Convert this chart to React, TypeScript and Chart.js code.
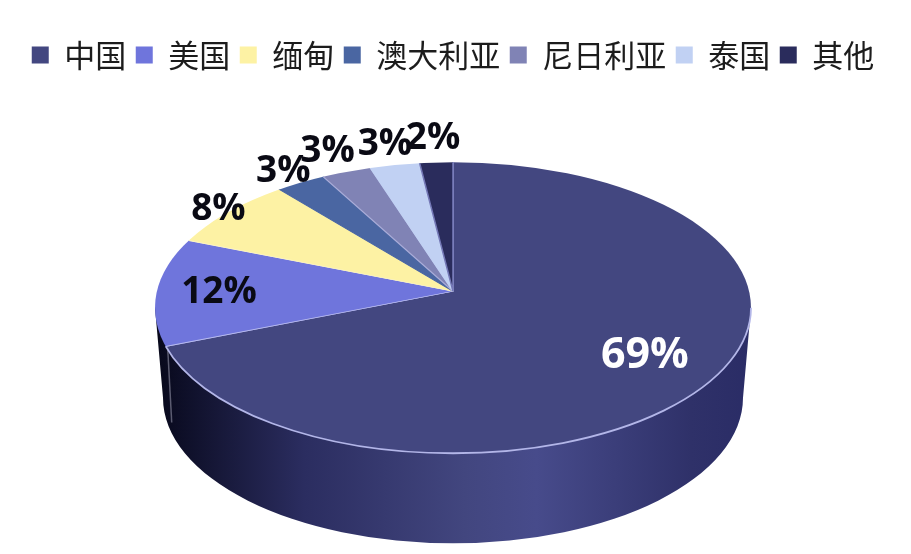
import React, { useEffect, useRef } from "react";
import { Chart, registerables } from "chart.js";

Chart.register(...registerables);

const categories = ["中国", "美国", "缅甸", "澳大利亚", "尼日利亚", "泰国", "其他"];
const shares = [69, 12, 8, 3, 3, 3, 2];
const sliceColors = ["#434780", "#6f75dc", "#fdf2a4", "#4a66a2", "#8083b5", "#c1d1f3", "#2a2c5c"];
const sliceBorders = ["#a4a7de", "#b9bcf2", "#fff6c0", "#4a66a2", "#a9acd8", "#c1d1f3", "#7478b6"];
const labelColors = ["#ffffff", "#0a0a14", "#0a0a14", "#0a0a14", "#0a0a14", "#0a0a14", "#0a0a14"];
const labelDistance = [232, 234, 290, 302, 316, 312, 318];
const labelSizes = [43, 37, 37, 37, 37, 37, 37];

const squash = 0.485; // vertical flattening of the pie about its apex
const rimRx = 298;
const rimRy = 145.5;
const rimOffsetY = 16.5; // the perspective ellipse sits below the apex
const depth = 90;
const baseRx = 290;

const pie3d = {
  id: "pie3d",
  beforeDatasetsDraw(chart: any) {
    const ctx = chart.ctx;
    const arc = chart.getDatasetMeta(0).data[0];
    const ax = arc.x;
    const ay = arc.y;
    const cy = ay + rimOffsetY;

    // side wall
    const grad = ctx.createLinearGradient(ax - rimRx, 0, ax + rimRx, 0);
    grad.addColorStop(0, "#07081a");
    grad.addColorStop(0.04, "#0d0e26");
    grad.addColorStop(0.25, "#2b2d60");
    grad.addColorStop(0.52, "#42467f");
    grad.addColorStop(0.64, "#474b8b");
    grad.addColorStop(0.9, "#2f3169");
    grad.addColorStop(1, "#2a2c66");
    ctx.save();
    ctx.beginPath();
    ctx.moveTo(ax + rimRx, cy);
    ctx.ellipse(ax, cy + depth, baseRx, rimRy, 0, 0, Math.PI, false);
    ctx.lineTo(ax - rimRx, cy);
    ctx.closePath();
    ctx.fillStyle = grad;
    ctx.fill();
    ctx.restore();

    // top face: slices are the library's arcs, flattened and cut to the rim
    ctx.save();
    ctx.beginPath();
    ctx.ellipse(ax, cy, rimRx, rimRy, 0, 0, Math.PI * 2);
    ctx.clip();
    ctx.translate(ax, ay);
    ctx.scale(1, squash);
    ctx.translate(-ax, -ay);
  },
  afterDatasetsDraw(chart: any) {
    const ctx = chart.ctx;
    ctx.restore();
    const meta = chart.getDatasetMeta(0);
    const first = meta.data[0];
    const ax = first.x;
    const ay = first.y;
    const cy = ay + rimOffsetY;

    // rim highlight from the right extreme to the end of the first slice
    const a = first.endAngle;
    const dx = Math.cos(a);
    const dy = squash * Math.sin(a);
    const qa = (dx * dx) / (rimRx * rimRx) + (dy * dy) / (rimRy * rimRy);
    const qb = (-2 * dy * rimOffsetY) / (rimRy * rimRy);
    const qc = (rimOffsetY * rimOffsetY) / (rimRy * rimRy) - 1;
    const t = (-qb + Math.sqrt(qb * qb - 4 * qa * qc)) / (2 * qa);
    const px = ax + t * dx;
    const py = ay + t * dy;
    const theta = Math.atan2((py - cy) / rimRy, (px - ax) / rimRx);

    ctx.save();
    ctx.beginPath();
    ctx.moveTo(px + 2, py + 2);
    ctx.lineTo(px + 6, py + depth - 14);
    ctx.strokeStyle = "rgba(190,190,210,0.45)";
    ctx.lineWidth = 1.5;
    ctx.stroke();
    ctx.beginPath();
    ctx.ellipse(ax, cy, rimRx, rimRy, 0, 0, theta, false);
    ctx.strokeStyle = "#b3b6e8";
    ctx.lineWidth = 1.8;
    ctx.stroke();

    // percentage labels
    ctx.textAlign = "center";
    ctx.textBaseline = "middle";
    meta.data.forEach((el: any, i: number) => {
      const mid = (el.startAngle + el.endAngle) / 2;
      const x = ax + labelDistance[i] * Math.cos(mid);
      const y = ay + 1 + squash * labelDistance[i] * Math.sin(mid);
      ctx.font = `bold ${labelSizes[i]}px "Open Sans"`;
      ctx.fillStyle = labelColors[i];
      ctx.fillText(`${shares[i]}%`, x, y);
    });
    ctx.restore();
  },
};

export default function App() {
  const ref = useRef<HTMLCanvasElement>(null);
  useEffect(() => {
    document.body.style.margin = "0";
    const chart = new Chart(ref.current as HTMLCanvasElement, {
      type: "pie",
      data: {
        labels: categories,
        datasets: [
          {
            data: shares,
            backgroundColor: sliceColors,
            borderColor: sliceBorders,
            borderWidth: 1.6,
            radius: 345,
            clip: false,
          } as any,
        ],
      },
      options: {
        responsive: false,
        animation: false,
        layout: { padding: { top: 30, bottom: 52, right: 5, left: 0 } },
        plugins: {
          tooltip: { enabled: false },
          legend: {
            position: "top",
            labels: {
              boxWidth: 17,
              boxHeight: 17,
              padding: 9.5,
              color: "#1c1c1c",
              font: { family: '"Noto Sans CJK SC"', size: 31 },
              generateLabels(chart: any) {
                const base = (Chart as any).overrides.pie.plugins.legend.labels.generateLabels(chart);
                return base.map((item: any) => ({ ...item, lineWidth: 0, strokeStyle: "transparent" }));
              },
            },
          },
        },
      } as any,
      plugins: [pie3d],
    });
    return () => chart.destroy();
  }, []);
  return <canvas ref={ref} width={911} height={554} style={{ display: "block" }} />;
}
